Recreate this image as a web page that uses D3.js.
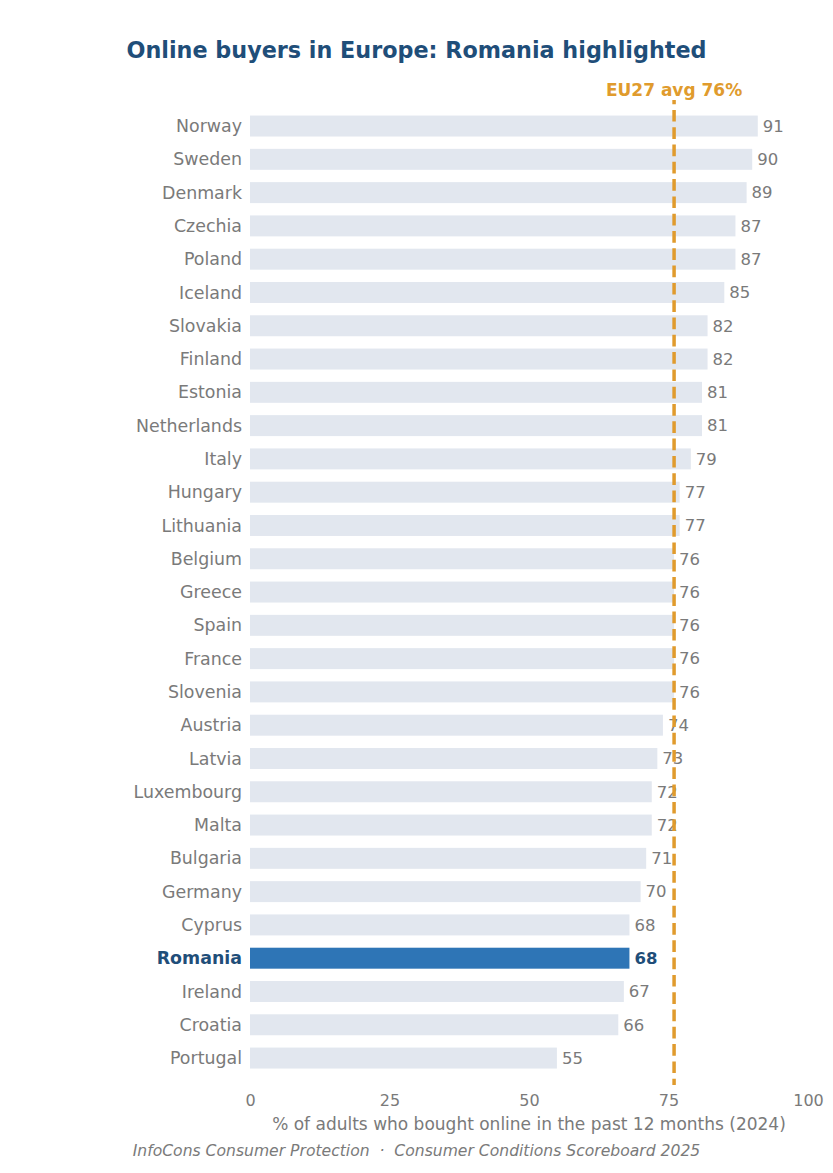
<!DOCTYPE html>
<html>
<head>
<meta charset="utf-8">
<script src="https://cdn.jsdelivr.net/npm/d3@7"></script>
<style>
  body { margin: 0; background: #fff; }
  svg text { font-family: "DejaVu Sans", sans-serif; white-space: pre; }
</style>
</head>
<body>
<svg id="chart" width="833" height="1173"></svg>
<script>
  // data
  const countries = ['Norway', 'Sweden', 'Denmark', 'Czechia', 'Poland', 'Iceland', 'Slovakia', 'Finland',
    'Estonia', 'Netherlands', 'Italy', 'Hungary', 'Lithuania', 'Belgium', 'Greece', 'Spain', 'France',
    'Slovenia', 'Austria', 'Latvia', 'Luxembourg', 'Malta', 'Bulgaria', 'Germany', 'Cyprus', 'Romania',
    'Ireland', 'Croatia', 'Portugal'];
  const shares = [91, 90, 89, 87, 87, 85, 82, 82, 81, 81, 79, 77, 77, 76, 76, 76, 76, 76, 74, 73, 72, 72,
    71, 70, 68, 68, 67, 66, 55];
  const xTicks = [0, 25, 50, 75, 100];
  const euAverage = 76;
  const highlighted = 'Romania';

  const rows = countries.map((name, i) => ({ name: name, value: shares[i] }));

  const svg = d3.select('#chart');
  const margin = { top: 109.4, left: 250, right: 25, bottom: 98.3 };
  const width = 833 - margin.left - margin.right;
  const height = 1173 - margin.top - margin.bottom;

  const x = d3.scaleLinear().domain([0, 100]).range([0, width]);
  const y = d3.scaleBand().domain(countries).range([0, height]).paddingInner(0.37).paddingOuter(0.185);

  svg.append('text')
    .attr('x', 416.5)
    .attr('y', 58)
    .attr('text-anchor', 'middle')
    .attr('font-size', 22.3)
    .attr('font-weight', 'bold')
    .attr('fill', '#1f4e79')
    .text('Online buyers in Europe: Romania highlighted');

  const g = svg.append('g').attr('transform', `translate(${margin.left},${margin.top})`);

  g.selectAll('rect.bar')
    .data(rows)
    .enter()
    .append('rect')
    .attr('class', 'bar')
    .attr('x', 0)
    .attr('y', d => y(d.name))
    .attr('width', d => x(d.value))
    .attr('height', y.bandwidth())
    .attr('fill', d => d.name === highlighted ? '#2e75b6' : '#e2e7ef');

  g.selectAll('text.country')
    .data(rows)
    .enter()
    .append('text')
    .attr('class', 'country')
    .attr('x', -8)
    .attr('y', d => y(d.name) + y.bandwidth() / 2)
    .attr('dy', '0.35em')
    .attr('text-anchor', 'end')
    .attr('font-size', 17.4)
    .attr('font-weight', d => d.name === highlighted ? 'bold' : 'normal')
    .attr('fill', d => d.name === highlighted ? '#1f4e79' : '#7a7a7a')
    .text(d => d.name);

  g.selectAll('text.value')
    .data(rows)
    .enter()
    .append('text')
    .attr('class', 'value')
    .attr('x', d => x(d.value) + 5)
    .attr('y', d => y(d.name) + y.bandwidth() / 2)
    .attr('dy', '0.35em')
    .attr('font-size', 16.5)
    .attr('font-weight', d => d.name === highlighted ? 'bold' : 'normal')
    .attr('fill', d => d.name === highlighted ? '#1f4e79' : '#7a7a7a')
    .text(d => d.value);

  // EU average reference line, drawn over the bars
  g.append('line')
    .attr('x1', x(euAverage))
    .attr('x2', x(euAverage))
    .attr('y1', 100 - margin.top)
    .attr('y2', 1085 - margin.top)
    .attr('stroke', '#e09b2d')
    .attr('stroke-width', 3.5)
    .attr('stroke-dasharray', '11.7,5.6')
    .attr('stroke-dashoffset', 7.4);

  g.append('text')
    .attr('x', x(euAverage))
    .attr('y', 96 - margin.top)
    .attr('text-anchor', 'middle')
    .attr('font-size', 17)
    .attr('font-weight', 'bold')
    .attr('fill', '#e09b2d')
    .text('EU27 avg ' + euAverage + '%');

  const xAxis = g.append('g')
    .attr('transform', `translate(0,${height})`)
    .call(d3.axisBottom(x).tickValues(xTicks).tickSize(0).tickPadding(20));
  xAxis.select('.domain').remove();
  xAxis.selectAll('text')
    .attr('font-family', '"DejaVu Sans", sans-serif')
    .attr('font-size', 16)
    .attr('fill', '#7a7a7a');

  g.append('text')
    .attr('x', width / 2)
    .attr('y', 1130 - margin.top)
    .attr('text-anchor', 'middle')
    .attr('font-size', 17)
    .attr('fill', '#7a7a7a')
    .text('% of adults who bought online in the past 12 months (2024)');

  svg.append('text')
    .attr('x', 416.5)
    .attr('y', 1156)
    .attr('text-anchor', 'middle')
    .attr('font-size', 15.6)
    .attr('font-style', 'italic')
    .attr('fill', '#7a7a7a')
    .text('InfoCons Consumer Protection  \u00b7  Consumer Conditions Scoreboard 2025');
</script>
</body>
</html>
